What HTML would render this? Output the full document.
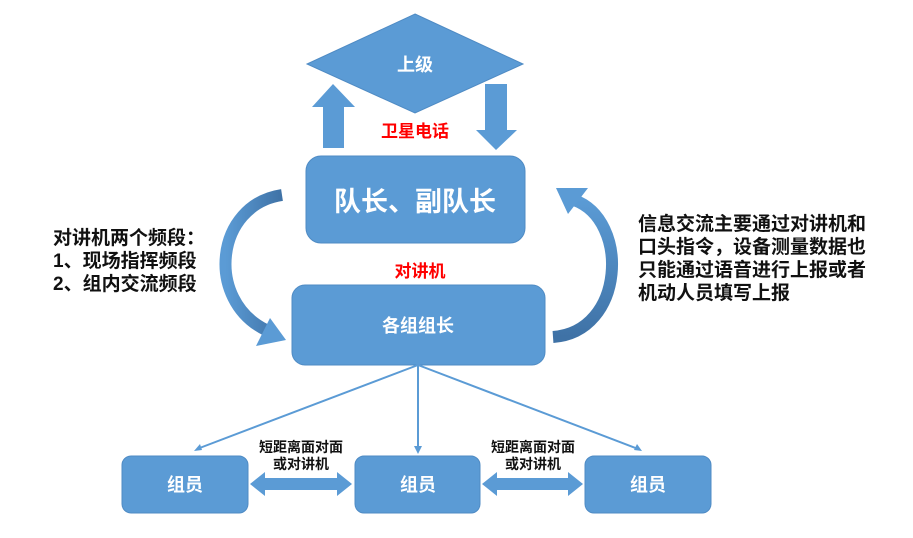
<!DOCTYPE html>
<html><head><meta charset="utf-8"><style>
html,body{margin:0;padding:0;background:#fff;}
svg text{font-family:"Liberation Sans","Noto Sans CJK SC",sans-serif;font-weight:bold;}
</style></head><body>
<svg width="913" height="533" viewBox="0 0 913 533" xmlns="http://www.w3.org/2000/svg">
<defs>
<linearGradient id="gl" x1="0" y1="0" x2="1" y2="0"><stop offset="0" stop-color="#5b9bd5"/><stop offset="1" stop-color="#3f72a6"/></linearGradient>
<linearGradient id="gr" x1="0" y1="1" x2="0" y2="0"><stop offset="0" stop-color="#3f72a6"/><stop offset="1" stop-color="#5b9bd5"/></linearGradient>
</defs>
<rect width="913" height="533" fill="#fff"/>
<polygon points="415,14 523,64 415,113 307,64" fill="#5b9bd5" stroke="#4f8bc4" stroke-width="1"/>
<text x="415" y="71" font-size="18" fill="#fff" text-anchor="middle">上级</text>
<polygon points="323,148 344,148 344,107 355,107 333,84 312,107 323,107" fill="#5b9bd5"/>
<polygon points="485,84 507,84 507,130 517,130 496,150 476,130 485,130" fill="#5b9bd5"/>
<text x="415" y="137" font-size="17" fill="#ff0000" text-anchor="middle">卫星电话</text>
<rect x="306" y="156" width="219" height="87" rx="15" fill="#5b9bd5" stroke="#4f8bc4"/>
<text x="415" y="211" font-size="27" fill="#fff" text-anchor="middle">队长、副队长</text>
<text x="420" y="277" font-size="17" fill="#ff0000" text-anchor="middle">对讲机</text>
<rect x="292" y="285" width="253" height="80" rx="13" fill="#5b9bd5" stroke="#4f8bc4"/>
<text x="418" y="332" font-size="18" fill="#fff" text-anchor="middle">各组组长</text>
<path d="M282,195 C215,205 205,300 266,330" fill="none" stroke="url(#gl)" stroke-width="12"/>
<polygon points="286,340 256,346 270,318" fill="#5b9bd5"/>
<path d="M553,337 C625,332 630,220 574,200" fill="none" stroke="url(#gr)" stroke-width="12"/>
<polygon points="556,188 588,188 568,214" fill="#5b9bd5"/>
<g font-size="19" fill="#111">
<text x="53" y="244">对讲机两个频段：</text>
<text x="53" y="267">1、现场指挥频段</text>
<text x="53" y="290">2、组内交流频段</text>
</g>
<g font-size="19" fill="#111">
<text x="638" y="230">信息交流主要通过对讲机和</text>
<text x="638" y="253">口头指令，设备测量数据也</text>
<text x="638" y="276">只能通过语音进行上报或者</text>
<text x="638" y="299">机动人员填写上报</text>
</g>
<g stroke="#5b9bd5" stroke-width="2">
<line x1="418" y1="365" x2="197" y2="449"/>
<line x1="418" y1="365" x2="418" y2="450"/>
<line x1="418" y1="365" x2="638" y2="449"/>
</g>
<g fill="#5b9bd5">
<polygon points="194,451 200,444 202,450"/>
<polygon points="418,454 414,446 422,446"/>
<polygon points="642,451 634,450 637,444"/>
</g>
<g fill="#5b9bd5" stroke="#4f8bc4">
<rect x="122" y="456" width="126" height="57" rx="9"/>
<rect x="355" y="456" width="125" height="57" rx="9"/>
<rect x="585" y="456" width="126" height="57" rx="9"/>
</g>
<g font-size="18" fill="#fff" text-anchor="middle">
<text x="185" y="491">组员</text>
<text x="418" y="491">组员</text>
<text x="648" y="491">组员</text>
</g>
<polygon points="250,484 265,472 265,478 337,478 337,472 352,484 337,496 337,490 265,490 265,496" fill="#5b9bd5"/>
<polygon points="482,484 497,472 497,478 568,478 568,472 583,484 568,496 568,490 497,490 497,496" fill="#5b9bd5"/>
<g font-size="14" fill="#111" text-anchor="middle">
<text x="301" y="452">短距离面对面</text>
<text x="301" y="469">或对讲机</text>
<text x="533" y="452">短距离面对面</text>
<text x="533" y="469">或对讲机</text>
</g>
</svg>
</body></html>
